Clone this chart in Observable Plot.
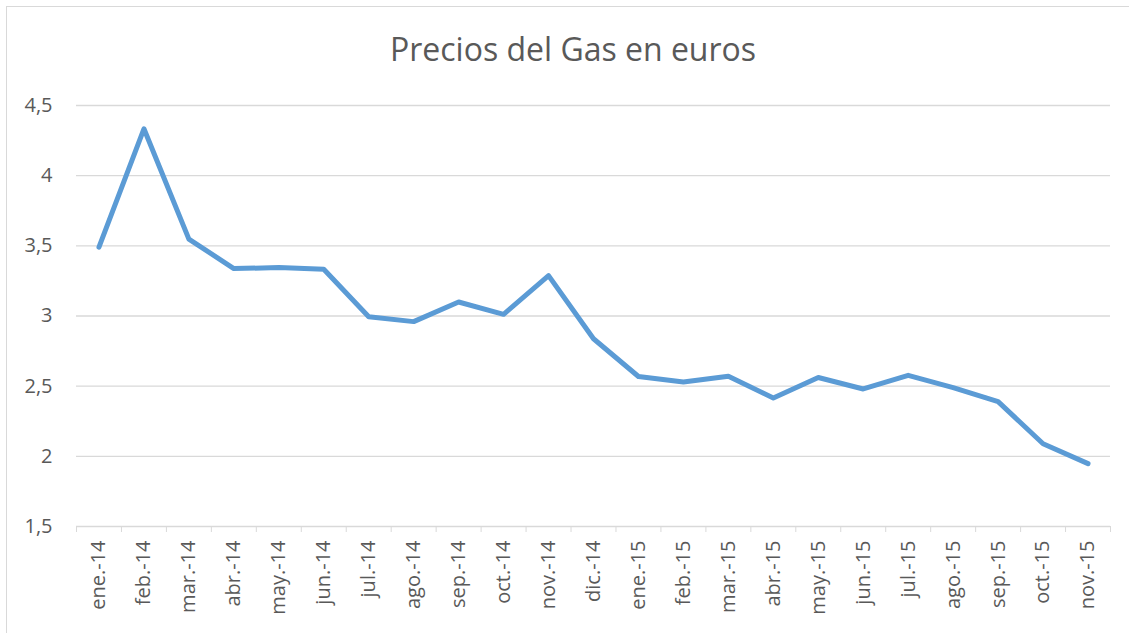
<!DOCTYPE html>
<html>
<head>
<meta charset="utf-8">
<script src="https://cdn.jsdelivr.net/npm/d3@7"></script>
<script src="https://cdn.jsdelivr.net/npm/@observablehq/plot@0.6"></script>
<style>
  body { margin: 0; background: #ffffff; }
  #wrap { position: relative; width: 1129px; height: 633px; overflow: hidden; background: #fff; }
  #frame { position: absolute; left: 6px; top: 6px; width: 1200px; height: 700px; border: 1px solid #d9d9d9; box-sizing: border-box; }
  #title { position: absolute; left: 0; top: 27px; width: 1146px; text-align: center; font-family: "Open Sans", sans-serif; font-size: 32px; line-height: 44px; color: #595959; }
  #chart { position: absolute; left: 0; top: 80px; }
</style>
</head>
<body>
<div id="wrap">
  <div id="frame"></div>
  <div id="title">Precios del Gas en euros</div>
  <div id="chart"></div>
</div>
<script>
const months = ["ene.-14","feb.-14","mar.-14","abr.-14","may.-14","jun.-14","jul.-14","ago.-14","sep.-14","oct.-14","nov.-14","dic.-14",
                "ene.-15","feb.-15","mar.-15","abr.-15","may.-15","jun.-15","jul.-15","ago.-15","sep.-15","oct.-15","nov.-15"];
const prices = [3.49, 4.334, 3.548, 3.338, 3.345, 3.333, 2.995, 2.96, 3.10, 3.012, 3.288, 2.838,
                2.569, 2.529, 2.571, 2.415, 2.562, 2.48, 2.577, 2.49, 2.39, 2.09, 1.948];
const yTicks = [1.5, 2, 2.5, 3, 3.5, 4, 4.5];

const data = months.map((m, i) => ({month: m, price: prices[i]}));

const W = 1129, H = 553, ML = 76, MR = 19;
const halfStep = (W - ML - MR) / months.length / 2;
const fmt = d => String(d).replace(".", ",");

const chart = Plot.plot({
  width: W,
  height: H,
  marginTop: 25,
  marginBottom: 107,
  marginLeft: ML,
  marginRight: MR,
  style: {fontFamily: "'Open Sans', sans-serif", fontSize: "20px", color: "#595959", background: "transparent", overflow: "visible"},
  x: {type: "point", domain: months, padding: 0.5, round: false, label: null},
  y: {domain: [1.5, 4.5], label: null},
  marks: [
    Plot.gridY(yTicks.slice(1), {stroke: "#d9d9d9", strokeOpacity: 1, strokeWidth: 1.3}),
    Plot.ruleY([1.5], {stroke: "#d9d9d9", strokeWidth: 1.3}),
    Plot.axisY({ticks: yTicks, tickSize: 0, tickPadding: 24, tickFormat: fmt, fill: "#595959", label: null}),
    Plot.axisX({ticks: months, tickSize: 6, tickFormat: () => "", dx: -halfStep, stroke: "#d9d9d9", label: null}),
    Plot.axisX({ticks: [months[months.length - 1]], tickSize: 6, tickFormat: () => "", dx: halfStep, stroke: "#d9d9d9", label: null}),
    Plot.axisX({ticks: months, tickSize: 0, tickPadding: 14, tickRotate: -90, fill: "#595959", label: null}),
    Plot.line(data, {x: "month", y: "price", stroke: "#5b9bd5", strokeWidth: 5, strokeLinejoin: "round", strokeLinecap: "round"})
  ]
});
document.getElementById("chart").appendChild(chart);
</script>
</body>
</html>
